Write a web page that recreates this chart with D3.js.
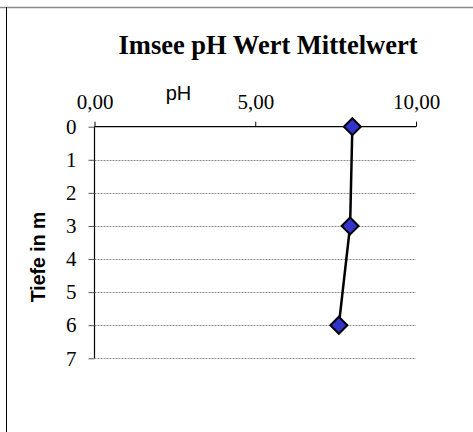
<!DOCTYPE html>
<html>
<head>
<meta charset="utf-8">
<script src="https://cdn.jsdelivr.net/npm/d3@7"></script>
<style>
  html, body { margin: 0; padding: 0; background: #fff; }
  svg { display: block; }
</style>
</head>
<body>
<svg id="chart" width="473" height="432"></svg>
<script>
// Mean pH per depth in the Imsee
const depths = [0, 3, 6];
const phValues = [8.02, 7.95, 7.6];
const xTicks = [0, 5, 10];
const yTicks = [0, 1, 2, 3, 4, 5, 6, 7];
const title = "Imsee pH Wert Mittelwert";
const xLabel = "pH";
const yLabel = "Tiefe in m";

const svg = d3.select("#chart");
const W = 473, H = 432;
const plot = { left: 94.5, right: 416, top: 126.7, bottom: 358.3 };
const serif = "'Liberation Serif', 'Times New Roman', serif";
const sans = "'Liberation Sans', Arial, sans-serif";

// outer frame (top and left edges)
svg.append("line").attr("x1", 0).attr("x2", W).attr("y1", 7.5).attr("y2", 7.5)
  .attr("stroke", "#8a8a8a").attr("stroke-width", 1.5);
svg.append("line").attr("x1", 6.5).attr("x2", 6.5).attr("y1", 7).attr("y2", H)
  .attr("stroke", "#000").attr("stroke-width", 1);

const x = d3.scaleLinear().domain([0, 10]).range([plot.left, plot.right]);
const y = d3.scaleLinear().domain([0, 7]).range([plot.top, plot.bottom]);

// horizontal gridlines
svg.append("g").selectAll("line").data(yTicks.filter(d => d > 0)).join("line")
  .attr("x1", plot.left).attr("x2", plot.right)
  .attr("y1", d => Math.round(y(d)) + 0.5).attr("y2", d => Math.round(y(d)) + 0.5)
  .attr("stroke", "#8c8c8c").attr("stroke-width", 1)
  .attr("stroke-dasharray", "2,1");

// left axis with outward ticks
const yAxis = d3.axisLeft(y).tickValues(yTicks).tickSize(6).tickPadding(12)
  .tickFormat(d3.format("d"));
const gy = svg.append("g").attr("transform", `translate(${plot.left},0)`).call(yAxis);
gy.select(".domain").attr("stroke", "#000").attr("stroke-width", 1.2).attr("d", `M0,${y(0)}V${y(7)}`);
gy.selectAll(".tick line").attr("stroke", "#555");
gy.selectAll(".tick text")
  .attr("font-family", serif).attr("font-size", 21).attr("fill", "#000");

// top axis with upward ticks
const xAxis = d3.axisTop(x).tickValues(xTicks).tickSize(5).tickPadding(13)
  .tickFormat(d => d3.format(".2f")(d).replace(".", ","));
const gx = svg.append("g").attr("transform", `translate(0,${plot.top})`).call(xAxis);
gx.select(".domain").attr("stroke", "#000").attr("stroke-width", 1.2)
  .attr("d", `M${plot.left},0H${plot.right}`);
gx.selectAll(".tick line").attr("stroke", "#000");
gx.selectAll(".tick text")
  .attr("font-family", serif).attr("font-size", 21).attr("fill", "#000");

// title
svg.append("text").attr("x", 268).attr("y", 53.5).attr("text-anchor", "middle")
  .attr("font-family", serif)
  .attr("font-weight", "bold").attr("font-size", 26.5).attr("fill", "#000")
  .text(title);

// axis titles
svg.append("text").attr("x", 178.5).attr("y", 100).attr("text-anchor", "middle")
  .attr("font-family", sans)
  .attr("font-size", 20).attr("fill", "#000").text(xLabel);
svg.append("text").attr("transform", "translate(45,257) rotate(-90)")
  .attr("text-anchor", "middle")
  .attr("font-family", sans)
  .attr("font-weight", "bold").attr("font-size", 19.5).attr("fill", "#000").text(yLabel);

// profile line and markers
const pts = depths.map((d, i) => ({ depth: d, ph: phValues[i] }));
svg.append("path").datum(pts)
  .attr("d", d3.line().x(d => x(d.ph)).y(d => y(d.depth)))
  .attr("fill", "none").attr("stroke", "#000").attr("stroke-width", 2.5);
const r = 8.5;
svg.append("g").selectAll("path").data(pts).join("path")
  .attr("transform", d => `translate(${x(d.ph)},${y(d.depth)})`)
  .attr("d", `M0,${-r}L${r},0L0,${r}L${-r},0Z`)
  .attr("fill", "#3333cc").attr("stroke", "#000").attr("stroke-width", 2);
</script>
</body>
</html>
